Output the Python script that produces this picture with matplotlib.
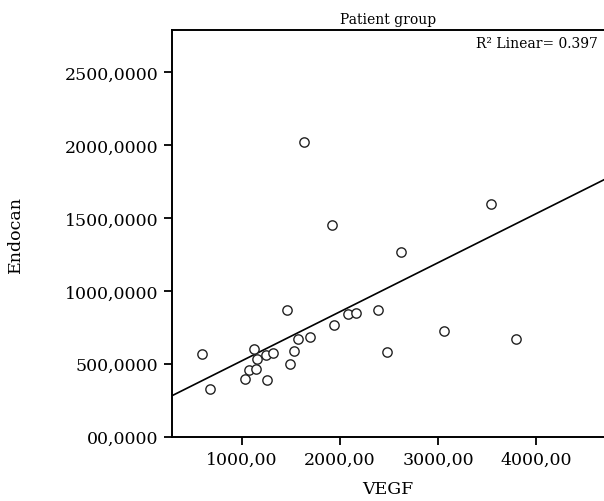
import numpy as np
import matplotlib
matplotlib.use("Agg")
import matplotlib.pyplot as plt
from matplotlib.ticker import FuncFormatter

vegf = [595, 677, 1629, 1922, 2619, 1456, 1122, 1150, 1245, 1316, 1071, 1143, 1027,
        1252, 1486, 1531, 1568, 1694, 1936, 2082, 2163, 2388, 2476, 3064, 3541, 3796]
endocan = [565, 325, 2019, 1454, 1267, 867, 599, 535, 558, 572, 460, 464, 398,
           389, 496, 588, 668, 682, 766, 842, 848, 869, 581, 725, 1594, 668]
# linear fit line
fit_intercept = 185.0
fit_slope = 0.336
x_ticks = [1000, 2000, 3000, 4000]
y_ticks = [0, 500, 1000, 1500, 2000, 2500]
title = "Patient group"
r2_label = "R² Linear= 0.397"

plt.rcParams['font.family'] = ['DejaVu Serif']

fig = plt.figure(figsize=(6.04, 5.02), dpi=100)
W, H = 604, 502
left, right, top, bottom = 172, 604, 31, 437.7
ax = fig.add_axes([left / W, 1 - bottom / H, (right - left) / W, (bottom - top) / H])

ax.scatter(vegf, endocan, s=45, facecolors='white', edgecolors='#222222', linewidths=1.0, zorder=3)

xlim = (286, 4694)
ylim = (0, 2789)
xs = np.array(xlim)
ax.plot(xs, fit_intercept + fit_slope * xs, color='black', lw=1.2, zorder=2)

ax.set_xlim(*xlim)
ax.set_ylim(*ylim)
ax.set_xticks(x_ticks)
ax.set_yticks(y_ticks)
ax.xaxis.set_major_formatter(FuncFormatter(lambda v, p: f"{v:.2f}".replace('.', ',')))
ax.yaxis.set_major_formatter(FuncFormatter(lambda v, p: ("0" if v == 0 else "") + f"{v:.4f}".replace('.', ',')))
ax.tick_params(direction='out', length=6, width=1.3, labelsize=12.5, colors='black', pad=4)

for s in ['left', 'bottom', 'top']:
    ax.spines[s].set_linewidth(1.4)
ax.spines['right'].set_visible(False)

ax.set_title(title, fontsize=10, pad=5)
ax.text(0.985, 0.985, r2_label, transform=ax.transAxes, ha='right', va='top', fontsize=10)
ax.set_xlabel("VEGF", fontsize=12.5, labelpad=9)
ax.set_ylabel("Endocan", fontsize=12.5, labelpad=29)

fig.savefig("out.png", dpi=100)
